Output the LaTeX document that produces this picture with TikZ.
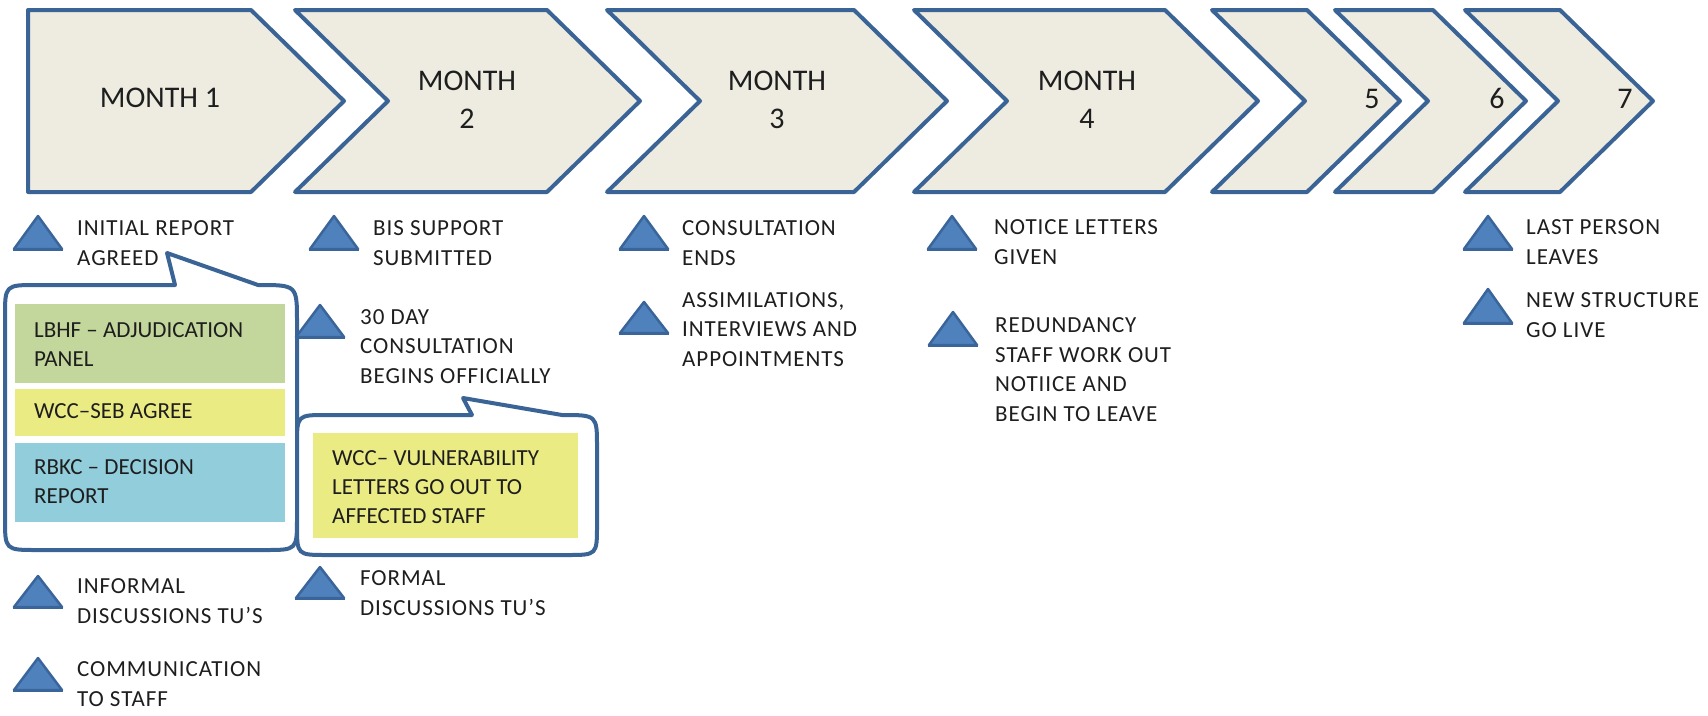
\documentclass[tikz,border=0pt]{standalone}
\usepackage{fontspec}
\setmainfont{Carlito}
\newfontfamily\lblfam[LetterSpace=4]{Carlito}
\definecolor{chevfill}{HTML}{EEECE1}
\definecolor{edge}{HTML}{3B6496}
\definecolor{trifill}{HTML}{4F81BD}
\definecolor{tridark}{HTML}{3A659A}
\definecolor{gbox}{HTML}{C3D69B}
\definecolor{ybox}{HTML}{EBEB84}
\definecolor{bbox}{HTML}{92CDDC}
\definecolor{txt}{HTML}{1E1E1E}
\newcommand\mkchev[3]{%
  \ifnum#3=1
    \draw[chev] (#1,10) -- (#2,10) -- (#2+93,101) -- (#2,192) -- (#1,192) -- (#1+93,101) -- cycle;
  \else
    \draw[chev] (#1,10) -- (#2,10) -- (#2+93,101) -- (#2,192) -- (#1,192) -- cycle;
  \fi}
\newcommand\mktri[3]{%
  \fill[trifill] (#1-24,#3) -- (#1,#2) -- (#1+24,#3) -- cycle;
  \draw[tridark,line width=2.5pt,line join=round] (#1-24,#3) -- (#1,#2) -- (#1+24,#3) -- cycle;
  \draw[tridark,line width=3pt] (#1-25,#3) -- (#1+25,#3);}
\begin{document}
\begin{tikzpicture}[x=1pt,y=-1pt,
  chev/.style={draw=edge,line width=4pt,fill=chevfill,line join=round},
  bubble/.style={draw=edge,line width=4pt,fill=white,line join=round},
  mon/.style={anchor=base,align=center,inner sep=0pt,text=txt,font=\fontsize{30}{38}\selectfont},
  lbl/.style={anchor=base west,align=left,inner sep=0pt,text=txt,font=\lblfam\fontsize{23}{29.5}\selectfont},
  boxtxt/.style={anchor=base west,align=left,inner sep=0pt,text=txt,font=\fontsize{23}{29}\selectfont}
]
\useasboundingbox (0,0) rectangle (1708,715);
\fill[white] (0,0) rectangle (1708,715);

% chevrons
\mkchev{28}{251}{0}
\mkchev{295}{547}{1}
\mkchev{607}{854}{1}
\mkchev{914}{1165}{1}
\mkchev{1212}{1307}{1}
\mkchev{1335}{1433}{1}
\mkchev{1465}{1560}{1}

% (base anchor = baseline of the last line)
\node[mon] (m1) at (160,107) {MONTH 1};
\node[mon] (m2) at (467,128) {MONTH\\2};
\node[mon] (m3) at (777,128) {MONTH\\3};
\node[mon] (m4) at (1087,128) {MONTH\\4};
\node[mon] (m5) at (1372,108) {5};
\node[mon] (m6) at (1497,108) {6};
\node[mon] (m7) at (1625,108) {7};

% bubble 1
\draw[bubble] (37,285) -- (175,285) -- (167,253) -- (258,285)
  .. controls (297,285) .. (297,322) -- (297,518)
  .. controls (297,550) .. (265,550) -- (37,550)
  .. controls (5,550) .. (5,518) -- (5,317)
  .. controls (5,285) .. (37,285) -- cycle;
\fill[gbox] (15,304) rectangle (285,383);
\fill[ybox] (15,389) rectangle (285,436);
\fill[bbox] (15,443) rectangle (285,522);
\node[boxtxt] (b1) at (34,366) {LBHF – ADJUDICATION\\PANEL};
\node[boxtxt] (b2) at (34,418) {WCC–SEB  AGREE};
\node[boxtxt] (b3) at (34,503) {RBKC – DECISION\\REPORT};

% bubble 2
\draw[bubble] (327,415) -- (472,415) -- (463,398) -- (562,415)
  .. controls (597,415) .. (597,447) -- (597,525)
  .. controls (597,555) .. (567,555) -- (327,555)
  .. controls (297,555) .. (297,525) -- (297,445)
  .. controls (297,415) .. (327,415) -- cycle;
\fill[ybox] (313,433) rectangle (578,538);
\node[boxtxt] (b4) at (332,523) {WCC– VULNERABILITY\\LETTERS  GO OUT TO\\AFFECTED STAFF};

% triangles and labels
\mktri{38}{216}{249}
\node[lbl] (t1) at (77,265) {INITIAL REPORT\\AGREED};
\mktri{334}{216}{249}
\node[lbl] (t2) at (373,265) {BIS SUPPORT\\SUBMITTED};
\mktri{644}{216}{249}
\node[lbl] (t3) at (682,265) {CONSULTATION\\ENDS};
\mktri{952}{216}{249}
\node[lbl] (t4) at (994,264) {NOTICE LETTERS\\GIVEN};
\mktri{1488}{216}{249}
\node[lbl] (t5) at (1526,264) {LAST PERSON\\LEAVES};

\mktri{320}{305}{337}
\node[lbl] (t6) at (360,383) {30 DAY\\CONSULTATION\\BEGINS OFFICIALLY};
\mktri{644}{302}{333}
\node[lbl] (t7) at (682,366) {ASSIMILATIONS,\\INTERVIEWS AND\\APPOINTMENTS};
\mktri{953}{312}{345}
\node[lbl] (t8) at (995,421) {REDUNDANCY\\STAFF WORK OUT\\NOTIICE AND\\BEGIN TO LEAVE};
\mktri{1488}{289}{323}
\node[lbl] (t9) at (1526,337) {NEW STRUCTURE\\GO LIVE};

\mktri{38}{576}{607}
\node[lbl] (t10) at (77,623) {INFORMAL\\DISCUSSIONS TU’S};
\mktri{38}{658}{690}
\node[lbl] (t11) at (77,706) {COMMUNICATION\\TO STAFF};
\mktri{320}{567}{598}
\node[lbl] (t12) at (360,615) {FORMAL\\DISCUSSIONS TU’S};
\end{tikzpicture}
\end{document}
